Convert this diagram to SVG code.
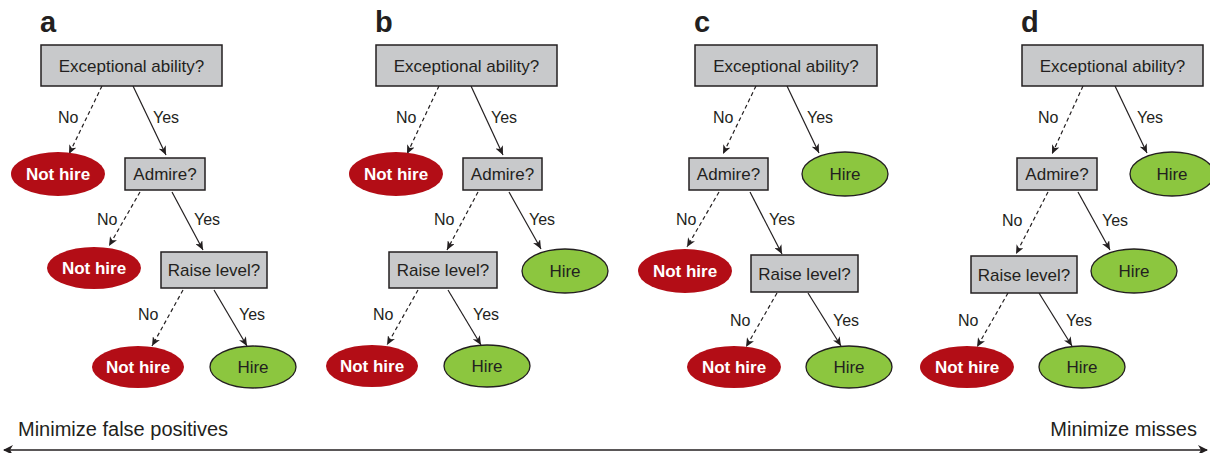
<svg xmlns="http://www.w3.org/2000/svg" width="1210" height="453" viewBox="0 0 1210 453">
<style>
text{font-family:"Liberation Sans",Arial,sans-serif;fill:#231f20}
.lbl{font-size:29px;font-weight:bold}
.q{fill:#c8c9cb;stroke:#231f20;stroke-width:1.5}
.qt{font-size:17px;text-anchor:middle}
.nh{fill:#b30d16}
.nht{font-size:17px;font-weight:bold;fill:#fff;text-anchor:middle}
.h{fill:#8cc63f;stroke:#231f20;stroke-width:1.3}
.ht{font-size:17px;text-anchor:middle}
.e{font-size:16px}
.y{stroke:#231f20;stroke-width:1.2;fill:none;marker-end:url(#ah)}
.n{stroke:#231f20;stroke-width:1.2;fill:none;stroke-dasharray:4,3;marker-end:url(#ah)}
.bt{font-size:20px}
</style>
<defs>
<marker id="ah" markerWidth="10" markerHeight="8" refX="9" refY="4" orient="auto" markerUnits="userSpaceOnUse">
<path d="M0,0 L9,4 L0,8 L2.5,4 z" fill="#231f20"/>
</marker>
<marker id="ab" markerWidth="10" markerHeight="10" refX="9" refY="5" orient="auto-start-reverse" markerUnits="userSpaceOnUse">
<path d="M0,0 L10,5 L0,10 L3,5 z" fill="#231f20"/>
</marker>
</defs>

<g id="labels">
<text class="lbl" x="40" y="32">a</text>
<text class="lbl" x="375" y="32">b</text>
<text class="lbl" x="694" y="32">c</text>
<text class="lbl" x="1021" y="32">d</text>
</g>

<g id="connectors">
<!-- a -->
<line class="n" x1="102" y1="86" x2="69" y2="154"/>
<line class="y" x1="133" y1="86" x2="166" y2="155"/>
<line class="n" x1="140" y1="192" x2="109" y2="246"/>
<line class="y" x1="172" y1="192" x2="203" y2="250"/>
<line class="n" x1="183" y1="290" x2="152" y2="346"/>
<line class="y" x1="214" y1="290" x2="247" y2="346"/>
<!-- b -->
<line class="n" x1="439" y1="86" x2="407" y2="154"/>
<line class="y" x1="471" y1="86" x2="503" y2="155"/>
<line class="n" x1="478" y1="192" x2="447" y2="250"/>
<line class="y" x1="509" y1="192" x2="541" y2="249"/>
<line class="n" x1="418" y1="290" x2="387" y2="345"/>
<line class="y" x1="448" y1="290" x2="481" y2="345"/>
<!-- c -->
<line class="n" x1="756" y1="86" x2="723" y2="154"/>
<line class="y" x1="787" y1="86" x2="819" y2="153"/>
<line class="n" x1="719" y1="192" x2="687" y2="247"/>
<line class="y" x1="750" y1="192" x2="782" y2="254"/>
<line class="n" x1="777" y1="293" x2="746" y2="347"/>
<line class="y" x1="808" y1="293" x2="841" y2="346"/>
<!-- d -->
<line class="n" x1="1083" y1="86" x2="1052" y2="154"/>
<line class="y" x1="1115" y1="86" x2="1147" y2="153"/>
<line class="n" x1="1048" y1="192" x2="1016" y2="254"/>
<line class="y" x1="1078" y1="192" x2="1110" y2="250"/>
<line class="n" x1="1008" y1="293" x2="977" y2="347"/>
<line class="y" x1="1039" y1="293" x2="1072" y2="346"/>
<!-- edge labels -->
<text class="e" x="58" y="123">No</text><text class="e" x="153" y="123">Yes</text>
<text class="e" x="97" y="225">No</text><text class="e" x="194" y="225">Yes</text>
<text class="e" x="138" y="320">No</text><text class="e" x="239" y="320">Yes</text>
<text class="e" x="396" y="123">No</text><text class="e" x="491" y="123">Yes</text>
<text class="e" x="434" y="225">No</text><text class="e" x="529" y="225">Yes</text>
<text class="e" x="373" y="320">No</text><text class="e" x="473" y="320">Yes</text>
<text class="e" x="713" y="123">No</text><text class="e" x="807" y="123">Yes</text>
<text class="e" x="676" y="225">No</text><text class="e" x="769" y="225">Yes</text>
<text class="e" x="730" y="326">No</text><text class="e" x="833" y="326">Yes</text>
<text class="e" x="1038" y="123">No</text><text class="e" x="1137" y="123">Yes</text>
<text class="e" x="1002" y="226">No</text><text class="e" x="1102" y="226">Yes</text>
<text class="e" x="958" y="326">No</text><text class="e" x="1066" y="326">Yes</text>
</g>

<!-- panel a -->
<g id="a-exc"><rect class="q" x="41" y="45" width="181" height="41"/><text class="qt" x="131.5" y="72">Exceptional ability?</text></g>
<g id="a-nh1"><ellipse class="nh" cx="58" cy="174" rx="47" ry="22"/><text class="nht" x="58" y="180">Not hire</text></g>
<g id="a-adm"><rect class="q" x="125" y="158" width="80" height="32"/><text class="qt" x="165" y="180">Admire?</text></g>
<g id="a-nh2"><ellipse class="nh" cx="94" cy="268" rx="47" ry="21"/><text class="nht" x="94" y="274">Not hire</text></g>
<g id="a-rl"><rect class="q" x="161" y="252" width="106" height="36"/><text class="qt" x="214" y="276">Raise level?</text></g>
<g id="a-nh3"><ellipse class="nh" cx="138" cy="367" rx="46" ry="21"/><text class="nht" x="138" y="373">Not hire</text></g>
<g id="a-h1"><ellipse class="h" cx="253" cy="367" rx="43" ry="21"/><text class="ht" x="253" y="373">Hire</text></g>

<!-- panel b -->
<g id="b-exc"><rect class="q" x="376" y="45" width="181" height="41"/><text class="qt" x="466.5" y="72">Exceptional ability?</text></g>
<g id="b-nh1"><ellipse class="nh" cx="396" cy="174" rx="47" ry="22"/><text class="nht" x="396" y="180">Not hire</text></g>
<g id="b-adm"><rect class="q" x="463" y="158" width="79" height="32"/><text class="qt" x="502.5" y="180">Admire?</text></g>
<g id="b-rl"><rect class="q" x="389" y="252" width="108" height="36"/><text class="qt" x="443" y="276">Raise level?</text></g>
<g id="b-h1"><ellipse class="h" cx="565" cy="271" rx="43" ry="22"/><text class="ht" x="565" y="277">Hire</text></g>
<g id="b-nh2"><ellipse class="nh" cx="372" cy="366" rx="46" ry="21"/><text class="nht" x="372" y="372">Not hire</text></g>
<g id="b-h2"><ellipse class="h" cx="487" cy="366" rx="43" ry="21"/><text class="ht" x="487" y="372">Hire</text></g>

<!-- panel c -->
<g id="c-exc"><rect class="q" x="695" y="45" width="182" height="41"/><text class="qt" x="786" y="72">Exceptional ability?</text></g>
<g id="c-adm"><rect class="q" x="689" y="158" width="79" height="32"/><text class="qt" x="728.5" y="180">Admire?</text></g>
<g id="c-h1"><ellipse class="h" cx="845" cy="174" rx="43" ry="22"/><text class="ht" x="845" y="180">Hire</text></g>
<g id="c-nh1"><ellipse class="nh" cx="685" cy="271" rx="47" ry="22"/><text class="nht" x="685" y="277">Not hire</text></g>
<g id="c-rl"><rect class="q" x="751" y="255" width="107" height="37"/><text class="qt" x="804.5" y="280">Raise level?</text></g>
<g id="c-nh2"><ellipse class="nh" cx="734" cy="367" rx="47" ry="21"/><text class="nht" x="734" y="373">Not hire</text></g>
<g id="c-h2"><ellipse class="h" cx="849" cy="367" rx="43" ry="21"/><text class="ht" x="849" y="373">Hire</text></g>

<!-- panel d -->
<g id="d-exc"><rect class="q" x="1022" y="45" width="181" height="41"/><text class="qt" x="1112.5" y="72">Exceptional ability?</text></g>
<g id="d-adm"><rect class="q" x="1017" y="158" width="80" height="32"/><text class="qt" x="1057" y="180">Admire?</text></g>
<g id="d-h1"><ellipse class="h" cx="1172" cy="174" rx="42" ry="22"/><text class="ht" x="1172" y="180">Hire</text></g>
<g id="d-rl"><rect class="q" x="971" y="256" width="106" height="37"/><text class="qt" x="1024" y="281">Raise level?</text></g>
<g id="d-h2"><ellipse class="h" cx="1134" cy="271" rx="43" ry="22"/><text class="ht" x="1134" y="277">Hire</text></g>
<g id="d-nh1"><ellipse class="nh" cx="967" cy="367" rx="47" ry="21"/><text class="nht" x="967" y="373">Not hire</text></g>
<g id="d-h3"><ellipse class="h" cx="1082" cy="367" rx="43" ry="21"/><text class="ht" x="1082" y="373">Hire</text></g>

<g id="axis">
<line x1="4" y1="450" x2="1207" y2="450" stroke="#231f20" stroke-width="1.5" marker-start="url(#ab)" marker-end="url(#ab)"/>
<text class="bt" x="18" y="436">Minimize false positives</text>
<text class="bt" x="1197" y="436" text-anchor="end">Minimize misses</text>
</g>
</svg>
